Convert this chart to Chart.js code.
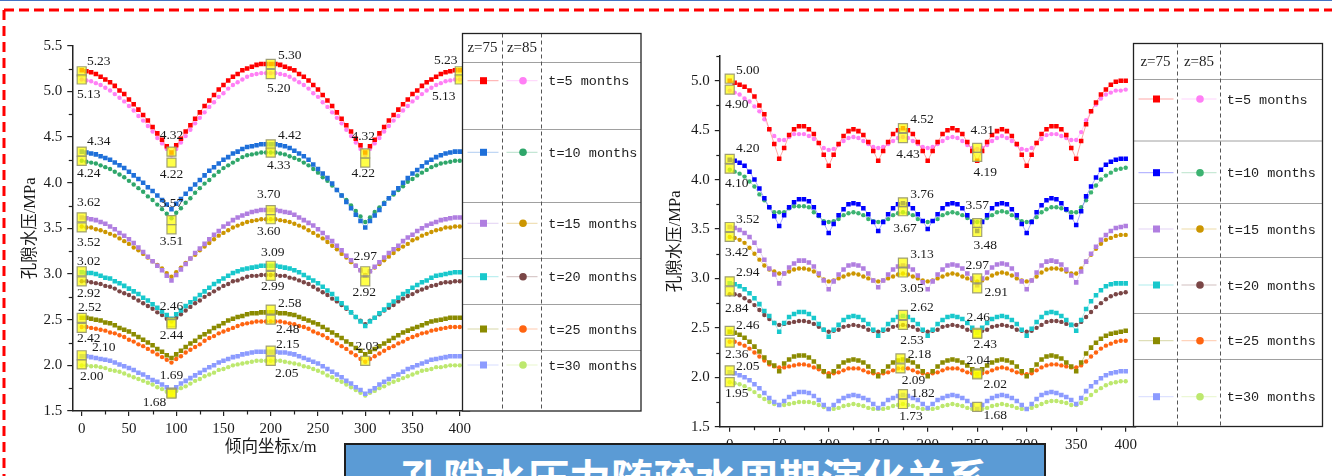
<!DOCTYPE html>
<html>
<head>
<meta charset="utf-8">
<script src="https://cdn.jsdelivr.net/npm/chart.js@4.4.1/dist/chart.umd.min.js"></script>
<style>
html, body { margin: 0; padding: 0; background: #fff; width: 1332px; height: 476px; overflow: hidden; }
#page { position: relative; width: 1332px; height: 476px; }
#frame { position: absolute; left: 0; top: 0; }
#leftChart { position: absolute; left: 0; top: 0; }
#rightChart { position: absolute; left: 645px; top: 0; }
#banner { position: absolute; left: 344px; top: 443px; width: 702px; height: 60px; box-sizing: border-box;
  background: #5b9bd5; border: 2px solid #1e1e1e; overflow: hidden; }
#banner span { position: absolute; left: 0; right: 0; top: 11px; text-align: center; color: #fff;
  font: bold 42px "Noto Sans CJK SC"; line-height: 42px; white-space: nowrap; }
</style>
</head>
<body>
<div id="page">
  <svg id="frame" width="1332" height="476">
    <line x1="0" y1="0.5" x2="1332" y2="0.5" stroke="#4472c4" stroke-width="1"/>
    <line x1="4" y1="10" x2="1332" y2="10" stroke="#ff0000" stroke-width="3" stroke-dasharray="10 5"/>
    <line x1="4" y1="10" x2="4" y2="476" stroke="#ff0000" stroke-width="3" stroke-dasharray="10 6"/>
  </svg>
  <canvas id="leftChart" width="645" height="476"></canvas>
  <canvas id="rightChart" width="687" height="476"></canvas>
  <div id="banner"><span>孔隙水压力随疏水周期演化关系</span></div>
</div>
<script>
// x positions along dip (m)
const xPos = [0,5,10,15,20,25,30,35,40,45,50,55,60,65,70,75,80,85,90,95,100,105,110,115,120,125,130,135,140,145,150,155,160,165,170,175,180,185,190,195,200,205,210,215,220,225,230,235,240,245,250,255,260,265,270,275,280,285,290,295,300,305,310,315,320,325,330,335,340,345,350,355,360,365,370,375,380,385,390,395,400];

const months = ['t=5 months', 't=10 months', 't=15 months', 't=20 months', 't=25 months', 't=30 months'];

// left panel, z=75 and z=85 (MPa)
const l75t5 = [5.23,5.22,5.21,5.19,5.16,5.13,5.10,5.06,5.01,4.97,4.91,4.86,4.80,4.74,4.68,4.61,4.54,4.47,4.40,4.33, 4.41,4.48,4.56,4.63,4.70,4.77,4.84,4.90,4.96,5.02,5.07,5.12,5.16,5.19,5.23,5.25,5.27,5.29,5.30,5.30,5.30, 5.30,5.29,5.27,5.25,5.23,5.19,5.16,5.12,5.07,5.02,4.96,4.90,4.84,4.77,4.70,4.63,4.56,4.48,4.41,4.33, 4.40,4.47,4.54,4.61,4.68,4.74,4.80,4.86,4.91,4.97,5.01,5.06,5.10,5.13,5.16,5.19,5.21,5.22,5.23,5.23];
const l85t5 = [5.13,5.12,5.11,5.09,5.07,5.04,5.01,4.97,4.93,4.89,4.84,4.79,4.73,4.68,4.62,4.56,4.49,4.43,4.37,4.30, 4.37,4.44,4.51,4.58,4.65,4.71,4.77,4.83,4.88,4.94,4.98,5.03,5.07,5.10,5.13,5.16,5.18,5.19,5.20,5.20,5.20, 5.20,5.19,5.18,5.16,5.13,5.10,5.07,5.03,4.98,4.94,4.88,4.83,4.77,4.71,4.65,4.58,4.51,4.44,4.37,4.30, 4.37,4.43,4.49,4.56,4.62,4.68,4.73,4.79,4.84,4.89,4.93,4.97,5.01,5.04,5.07,5.09,5.11,5.12,5.13,5.13];
const l75t10 = [4.34,4.33,4.32,4.31,4.29,4.27,4.25,4.22,4.19,4.16,4.12,4.08,4.04,4.00,3.95,3.91,3.86,3.81,3.76,3.71, 3.77,3.82,3.88,3.93,3.98,4.03,4.08,4.13,4.17,4.21,4.25,4.28,4.32,4.34,4.37,4.39,4.40,4.41,4.42,4.42,4.42, 4.42,4.41,4.40,4.38,4.35,4.32,4.29,4.25,4.20,4.15,4.10,4.05,3.99,3.92,3.86,3.79,3.72,3.65,3.58,3.51, 3.58,3.64,3.70,3.77,3.83,3.89,3.94,4.00,4.05,4.10,4.14,4.18,4.22,4.25,4.28,4.30,4.32,4.33,4.34,4.34];
const l85t10 = [4.24,4.23,4.22,4.21,4.19,4.17,4.15,4.12,4.09,4.06,4.02,3.98,3.94,3.90,3.85,3.81,3.76,3.71,3.66,3.61, 3.67,3.72,3.78,3.83,3.89,3.94,3.99,4.03,4.08,4.12,4.16,4.19,4.22,4.25,4.28,4.30,4.31,4.32,4.33,4.33,4.33, 4.33,4.32,4.31,4.29,4.27,4.25,4.22,4.19,4.15,4.11,4.06,4.02,3.97,3.92,3.86,3.81,3.75,3.69,3.63,3.57, 3.62,3.68,3.73,3.78,3.83,3.87,3.92,3.96,4.01,4.04,4.08,4.11,4.14,4.17,4.19,4.21,4.22,4.23,4.24,4.24];
const l75t15 = [3.62,3.61,3.60,3.59,3.57,3.55,3.52,3.49,3.45,3.42,3.38,3.34,3.29,3.24,3.19,3.14,3.09,3.04,2.98,2.93, 2.99,3.05,3.11,3.17,3.23,3.28,3.33,3.38,3.43,3.47,3.52,3.55,3.59,3.62,3.64,3.66,3.68,3.69,3.70,3.70,3.70, 3.70,3.69,3.68,3.67,3.65,3.62,3.59,3.56,3.53,3.49,3.45,3.40,3.36,3.31,3.26,3.20,3.15,3.09,3.04,2.98, 3.03,3.08,3.13,3.18,3.23,3.27,3.31,3.36,3.40,3.43,3.47,3.50,3.53,3.55,3.57,3.59,3.60,3.61,3.62,3.62];
const l85t15 = [3.52,3.51,3.51,3.49,3.48,3.46,3.44,3.42,3.39,3.36,3.33,3.29,3.26,3.22,3.18,3.14,3.10,3.06,3.01,2.97, 3.02,3.07,3.12,3.17,3.21,3.26,3.30,3.34,3.38,3.42,3.45,3.48,3.51,3.53,3.55,3.57,3.58,3.59,3.60,3.60,3.60, 3.60,3.59,3.58,3.57,3.55,3.53,3.51,3.48,3.45,3.42,3.39,3.35,3.31,3.27,3.22,3.18,3.13,3.09,3.04,2.99, 3.03,3.07,3.11,3.15,3.19,3.23,3.27,3.30,3.33,3.37,3.39,3.42,3.44,3.46,3.48,3.49,3.51,3.51,3.52,3.52];
const l75t20 = [3.02,3.01,3.01,3.00,2.98,2.96,2.95,2.92,2.90,2.87,2.84,2.81,2.78,2.74,2.71,2.67,2.63,2.59,2.55,2.51, 2.56,2.60,2.65,2.69,2.73,2.77,2.81,2.85,2.89,2.92,2.95,2.98,3.01,3.03,3.05,3.06,3.07,3.08,3.09,3.09,3.09, 3.09,3.08,3.07,3.06,3.04,3.02,2.99,2.96,2.93,2.90,2.86,2.82,2.78,2.73,2.68,2.63,2.58,2.53,2.48,2.43, 2.48,2.52,2.57,2.61,2.66,2.70,2.74,2.78,2.81,2.85,2.88,2.91,2.93,2.96,2.98,2.99,3.00,3.01,3.02,3.02];
const l85t20 = [2.92,2.92,2.91,2.90,2.89,2.87,2.86,2.84,2.81,2.79,2.77,2.74,2.71,2.68,2.65,2.62,2.58,2.55,2.51,2.48, 2.52,2.56,2.60,2.64,2.68,2.71,2.75,2.78,2.81,2.84,2.87,2.89,2.92,2.93,2.95,2.97,2.98,2.98,2.99,2.99,2.99, 2.99,2.98,2.98,2.96,2.95,2.93,2.91,2.89,2.86,2.83,2.80,2.77,2.73,2.70,2.66,2.62,2.58,2.53,2.49,2.45, 2.49,2.52,2.56,2.60,2.63,2.66,2.70,2.73,2.76,2.78,2.81,2.83,2.85,2.87,2.88,2.90,2.91,2.91,2.92,2.92];
const l75t25 = [2.52,2.52,2.51,2.50,2.49,2.47,2.46,2.44,2.41,2.39,2.37,2.34,2.31,2.28,2.25,2.22,2.18,2.15,2.11,2.08, 2.12,2.16,2.20,2.24,2.27,2.31,2.34,2.37,2.41,2.43,2.46,2.49,2.51,2.53,2.54,2.56,2.57,2.57,2.58,2.58,2.58, 2.58,2.57,2.57,2.56,2.55,2.53,2.51,2.49,2.47,2.45,2.42,2.39,2.36,2.33,2.30,2.26,2.23,2.19,2.16,2.12, 2.15,2.18,2.21,2.24,2.27,2.30,2.33,2.36,2.38,2.40,2.42,2.44,2.46,2.48,2.49,2.50,2.51,2.52,2.52,2.52];
const l85t25 = [2.42,2.42,2.41,2.40,2.39,2.38,2.36,2.35,2.33,2.31,2.28,2.26,2.23,2.21,2.18,2.15,2.12,2.09,2.06,2.03, 2.07,2.10,2.14,2.17,2.20,2.23,2.27,2.30,2.32,2.35,2.37,2.39,2.41,2.43,2.45,2.46,2.47,2.48,2.48,2.48,2.48, 2.48,2.48,2.47,2.46,2.45,2.43,2.42,2.40,2.37,2.35,2.33,2.30,2.27,2.24,2.21,2.18,2.14,2.11,2.07,2.04, 2.07,2.10,2.13,2.16,2.19,2.21,2.24,2.26,2.29,2.31,2.33,2.35,2.36,2.38,2.39,2.40,2.41,2.42,2.42,2.42];
const l75t30 = [2.10,2.10,2.09,2.08,2.07,2.06,2.05,2.03,2.01,1.99,1.97,1.95,1.92,1.90,1.87,1.84,1.82,1.79,1.76,1.73, 1.76,1.80,1.83,1.86,1.89,1.92,1.95,1.98,2.00,2.03,2.05,2.07,2.09,2.10,2.12,2.13,2.14,2.15,2.15,2.15,2.15, 2.15,2.14,2.14,2.13,2.12,2.10,2.08,2.06,2.04,2.02,1.99,1.96,1.93,1.90,1.87,1.83,1.80,1.76,1.73,1.69, 1.72,1.75,1.79,1.82,1.85,1.88,1.90,1.93,1.96,1.98,2.00,2.02,2.04,2.06,2.07,2.08,2.09,2.10,2.10,2.10];
const l85t30 = [2.00,2.00,1.99,1.99,1.98,1.97,1.95,1.94,1.93,1.91,1.89,1.87,1.85,1.83,1.81,1.79,1.76,1.74,1.71,1.69, 1.72,1.75,1.77,1.80,1.83,1.85,1.88,1.90,1.92,1.95,1.96,1.98,2.00,2.01,2.02,2.03,2.04,2.05,2.05,2.05,2.05, 2.05,2.05,2.04,2.03,2.02,2.01,1.99,1.98,1.96,1.94,1.92,1.89,1.87,1.84,1.82,1.79,1.76,1.73,1.70,1.67, 1.70,1.72,1.75,1.77,1.80,1.82,1.84,1.86,1.88,1.90,1.92,1.94,1.95,1.96,1.98,1.98,1.99,2.00,2.00,2.00];

// right panel, z=75 and z=85 (MPa)
const r75t5 = [5.00,4.98,4.96,4.94,4.90,4.84,4.75,4.66,4.51,4.36,4.21, 4.32,4.45,4.51,4.54,4.54,4.51,4.46,4.37,4.25,4.14, 4.25,4.36,4.44,4.49,4.51,4.49,4.45,4.38,4.29,4.19, 4.29,4.38,4.46,4.50,4.52,4.50,4.46,4.38,4.29,4.19, 4.29,4.38,4.46,4.50,4.52,4.50,4.46,4.38,4.29,4.19, 4.29,4.38,4.45,4.49,4.51,4.49,4.44,4.36,4.25,4.14, 4.25,4.37,4.46,4.51,4.54,4.54,4.51,4.45,4.32,4.21, 4.39,4.56,4.69,4.78,4.86,4.91,4.96,4.99,5.00,5.00];
const r85t5 = [4.90,4.88,4.86,4.82,4.79,4.74,4.69,4.61,4.51,4.44,4.40, 4.40,4.43,4.46,4.46,4.46,4.44,4.41,4.37,4.32,4.30, 4.31,4.35,4.39,4.42,4.43,4.42,4.39,4.36,4.33,4.32, 4.33,4.36,4.39,4.42,4.43,4.42,4.39,4.36,4.33,4.32, 4.33,4.36,4.39,4.42,4.43,4.42,4.39,4.35,4.32,4.31, 4.32,4.35,4.39,4.42,4.44,4.42,4.39,4.35,4.31,4.30, 4.32,4.37,4.41,4.45,4.46,4.46,4.44,4.42,4.40,4.40, 4.48,4.60,4.69,4.76,4.82,4.86,4.88,4.90,4.90,4.91];
const r75t10 = [4.20,4.19,4.17,4.14,4.08,4.00,3.91,3.81,3.72,3.63,3.53, 3.64,3.72,3.77,3.80,3.80,3.78,3.72,3.64,3.56,3.46, 3.55,3.64,3.70,3.75,3.76,3.75,3.71,3.65,3.57,3.48, 3.57,3.65,3.71,3.75,3.76,3.75,3.71,3.65,3.58,3.50, 3.58,3.65,3.71,3.75,3.76,3.75,3.71,3.64,3.57,3.48, 3.57,3.64,3.71,3.75,3.76,3.75,3.70,3.64,3.55,3.46, 3.57,3.67,3.74,3.79,3.81,3.80,3.76,3.70,3.62,3.54, 3.68,3.83,3.93,4.02,4.10,4.15,4.18,4.20,4.21,4.21];
const r85t10 = [4.10,4.08,4.06,4.03,3.98,3.93,3.85,3.79,3.72,3.67,3.67, 3.67,3.71,3.73,3.73,3.73,3.72,3.67,3.63,3.58,3.57, 3.58,3.60,3.64,3.66,3.67,3.66,3.64,3.60,3.58,3.57, 3.58,3.60,3.64,3.66,3.67,3.66,3.64,3.60,3.58,3.57, 3.58,3.60,3.64,3.66,3.67,3.66,3.64,3.61,3.58,3.57, 3.58,3.61,3.64,3.67,3.68,3.67,3.64,3.61,3.58,3.57, 3.58,3.62,3.67,3.70,3.72,3.72,3.71,3.69,3.67,3.67, 3.72,3.79,3.87,3.94,4.00,4.04,4.07,4.10,4.11,4.12];
const r75t15 = [3.52,3.51,3.49,3.46,3.42,3.36,3.28,3.19,3.10,3.04,2.95, 3.05,3.11,3.15,3.18,3.18,3.16,3.12,3.05,2.98,2.89, 2.97,3.04,3.09,3.13,3.14,3.13,3.10,3.05,2.98,2.91, 2.98,3.04,3.09,3.12,3.13,3.12,3.09,3.03,2.96,2.89, 2.97,3.04,3.09,3.13,3.14,3.13,3.10,3.05,3.00,2.93, 3.00,3.06,3.11,3.14,3.15,3.14,3.10,3.04,2.97,2.89, 2.98,3.06,3.13,3.17,3.18,3.17,3.14,3.09,3.03,2.96, 3.07,3.17,3.25,3.32,3.39,3.44,3.48,3.51,3.52,3.53];
const r85t15 = [3.42,3.41,3.39,3.36,3.31,3.25,3.19,3.13,3.09,3.07,3.05, 3.05,3.07,3.09,3.10,3.10,3.09,3.07,3.03,2.99,2.97, 2.98,3.00,3.02,3.04,3.05,3.04,3.02,3.00,2.98,2.97, 2.98,3.00,3.02,3.04,3.05,3.04,3.02,3.00,2.98,2.97, 2.98,3.00,3.02,3.04,3.05,3.04,3.02,3.00,2.98,2.97, 2.98,3.00,3.03,3.05,3.06,3.05,3.03,3.00,2.98,2.97, 2.98,3.02,3.06,3.09,3.10,3.10,3.09,3.07,3.05,3.05, 3.10,3.17,3.24,3.30,3.35,3.39,3.41,3.43,3.44,3.44];
const r75t20 = [2.95,2.94,2.92,2.89,2.85,2.80,2.74,2.67,2.62,2.55,2.46, 2.55,2.61,2.64,2.66,2.66,2.64,2.60,2.54,2.48,2.41, 2.48,2.53,2.58,2.61,2.62,2.61,2.58,2.54,2.48,2.42, 2.48,2.54,2.58,2.61,2.62,2.61,2.58,2.54,2.48,2.42, 2.48,2.54,2.58,2.61,2.62,2.61,2.59,2.55,2.50,2.45, 2.50,2.55,2.59,2.61,2.62,2.61,2.58,2.54,2.48,2.42, 2.49,2.56,2.61,2.65,2.66,2.65,2.62,2.58,2.53,2.47, 2.58,2.69,2.77,2.83,2.88,2.92,2.94,2.95,2.95,2.95];
const r85t20 = [2.84,2.84,2.83,2.80,2.77,2.73,2.68,2.63,2.59,2.55,2.53, 2.54,2.55,2.56,2.57,2.57,2.56,2.54,2.51,2.48,2.46, 2.47,2.48,2.51,2.52,2.53,2.52,2.51,2.48,2.47,2.46, 2.47,2.48,2.51,2.52,2.53,2.52,2.51,2.48,2.47,2.46, 2.47,2.48,2.51,2.52,2.53,2.52,2.51,2.48,2.47,2.46, 2.47,2.48,2.51,2.52,2.53,2.52,2.51,2.48,2.47,2.46, 2.47,2.50,2.53,2.56,2.57,2.57,2.56,2.54,2.53,2.53, 2.56,2.61,2.66,2.71,2.75,2.79,2.82,2.84,2.85,2.86];
const r75t25 = [2.46,2.45,2.43,2.40,2.36,2.31,2.26,2.20,2.15,2.12,2.06, 2.14,2.18,2.21,2.22,2.22,2.20,2.16,2.11,2.06,2.01, 2.06,2.11,2.15,2.17,2.18,2.17,2.15,2.11,2.06,2.01, 2.06,2.11,2.15,2.17,2.18,2.17,2.15,2.11,2.06,2.01, 2.06,2.11,2.15,2.17,2.18,2.17,2.15,2.12,2.08,2.03, 2.08,2.12,2.15,2.17,2.18,2.17,2.15,2.11,2.06,2.01, 2.07,2.13,2.18,2.21,2.22,2.21,2.19,2.15,2.11,2.06, 2.15,2.24,2.30,2.35,2.39,2.42,2.44,2.45,2.46,2.47];
const r85t25 = [2.36,2.36,2.34,2.32,2.29,2.25,2.21,2.17,2.13,2.11,2.10, 2.10,2.11,2.12,2.13,2.13,2.12,2.10,2.08,2.05,2.04, 2.04,2.05,2.07,2.09,2.09,2.09,2.07,2.05,2.04,2.03, 2.04,2.05,2.07,2.09,2.09,2.09,2.07,2.05,2.04,2.03, 2.04,2.05,2.07,2.09,2.09,2.09,2.07,2.05,2.04,2.03, 2.04,2.05,2.07,2.09,2.10,2.09,2.07,2.05,2.04,2.03, 2.04,2.07,2.10,2.12,2.13,2.13,2.12,2.11,2.10,2.10, 2.12,2.16,2.21,2.25,2.29,2.32,2.34,2.36,2.37,2.37];
const r75t30 = [2.05,2.04,2.02,2.00,1.97,1.93,1.89,1.84,1.79,1.75,1.72, 1.76,1.80,1.83,1.85,1.85,1.84,1.81,1.77,1.72,1.68, 1.72,1.76,1.79,1.81,1.82,1.81,1.79,1.77,1.73,1.69, 1.73,1.77,1.79,1.81,1.82,1.81,1.79,1.77,1.73,1.69, 1.73,1.77,1.79,1.81,1.82,1.81,1.79,1.76,1.72,1.68, 1.72,1.76,1.79,1.81,1.82,1.81,1.79,1.76,1.72,1.68, 1.73,1.78,1.82,1.84,1.85,1.84,1.82,1.80,1.77,1.73, 1.79,1.86,1.91,1.95,1.99,2.02,2.04,2.05,2.06,2.06];
const r85t30 = [1.95,1.94,1.93,1.91,1.88,1.85,1.81,1.78,1.75,1.73,1.72, 1.72,1.73,1.74,1.75,1.75,1.75,1.74,1.72,1.70,1.68, 1.68,1.69,1.71,1.72,1.73,1.72,1.71,1.69,1.68,1.68, 1.68,1.69,1.71,1.72,1.73,1.72,1.71,1.69,1.68,1.68, 1.68,1.69,1.71,1.72,1.73,1.72,1.71,1.69,1.68,1.68, 1.68,1.69,1.71,1.72,1.73,1.72,1.71,1.69,1.68,1.68, 1.69,1.71,1.73,1.75,1.76,1.76,1.75,1.74,1.72,1.72, 1.74,1.78,1.82,1.86,1.89,1.92,1.94,1.95,1.96,1.96];

// highlighted points (yellow squares) and their value labels
const leftMarkX = [0,0,95,95,200,200,300,300,400,400, 0,0,200,200,95,95, 0,0,200,200,300,300, 0,0,95,95,200,200, 0,0,200,200,300, 0,0,95,95,200,200];
const leftMarkY = [5.22,5.13,4.34,4.22,5.30,5.19,4.32,4.22,5.22,5.13, 4.34,4.24,4.42,4.33,3.59,3.49, 3.62,3.51,3.70,3.60,3.03,2.92, 3.03,2.92,2.47,2.45,3.09,2.98, 2.52,2.41,2.61,2.50,2.05, 2.11,2.01,1.70,1.69,2.16,2.05];
const leftMarkText = ['5.23','5.13','4.32','4.22','5.30','5.20','4.32','4.22','5.23','5.13', '4.34','4.24','4.42','4.33','3.57','3.51', '3.62','3.52','3.70','3.60','2.97','2.92', '3.02','2.92','2.46','2.44','3.09','2.99', '2.52','2.42','2.58','2.48','2.03', '2.10','2.00','1.69','1.68','2.15','2.05'];
const rightMarkX = [0,0,175,175,250,250, 0,0,175,175,250,250, 0,0,175,175,250,250, 0,0,175,175,250,250, 0,0,172.5,172.5,250,250, 0,0,175,175,250];
const rightMarkY = [5.02,4.91,4.52,4.42,4.32,4.23, 4.21,4.11,3.77,3.68,3.56,3.47, 3.52,3.42,3.16,3.06,3.00,2.90, 2.97,2.87,2.63,2.53,2.45,2.44, 2.47,2.35,2.19,2.09,2.04,2.03, 2.07,1.95,1.83,1.73,1.70];
const rightMarkText = ['5.00','4.90','4.52','4.43','4.31','4.19', '4.20','4.10','3.76','3.67','3.57','3.48', '3.52','3.42','3.13','3.05','2.97','2.91', '2.94','2.84','2.62','2.53','2.46','2.43', '2.46','2.36','2.18','2.09','2.04','2.02', '2.05','1.95','1.82','1.73','1.68'];

// label offsets from their marker, px
const leftLabelShift = [[17,-10],[7,15],[0,-16],[0,12],[19,-9],[8,14],[-2,-17],[-2,11],[-14,-11],[-16,17],
  [17,-10],[7,13],[19,-9],[8,13],[0,-17],[0,12], [7,-15],[7,15],[-2,-16],[-2,12],[0,-15],[-1,11],
  [7,-10],[7,12],[0,-16],[0,11],[2,-13],[2,11], [8,-10],[7,11],[19,-6],[17,10],[2,-14],
  [22,-8],[10,12],[0,-17],[-17,9],[17,-6],[16,13]];
const rightLabelShift = [[18,-8],[7,15],[19,-9],[5,16],[5,-17],[8,16], [18,-10],[7,15],[19,-8],[2,17],[0,-18],[8,13],
  [18,-8],[7,16],[19,-8],[9,16],[0,-13],[19,4], [18,-9],[7,17],[19,-8],[9,16],[1,-15],[8,11],
  [18,-5],[7,12],[19,-4],[13,12],[1,-13],[18,10], [18,-4],[7,11],[20,-1],[8,12],[18,9]];

const leftColors75 = ['#ff0000', '#1e6fd9', '#b07ee0', '#18c8cc', '#8b8b00', '#8c9bff'];
const leftColors85 = ['#ff7ff5', '#2ea66a', '#cc9600', '#7a4646', '#ff6410', '#bde86e'];
const rightColors75 = ['#ff0000', '#0000ff', '#b07ee0', '#18c8cc', '#8b8b00', '#8c9bff'];
const rightColors85 = ['#ff7ff5', '#3cb371', '#cc9600', '#7a4646', '#ff6410', '#bde86e'];

const serif = '"Liberation Serif", "Noto Sans CJK SC"';

function fade(hex, a) {
  const n = parseInt(hex.slice(1), 16);
  return `rgba(${(n >> 16) & 255},${(n >> 8) & 255},${n & 255},${a})`;
}

function buildDatasets(z75, z85, c75, c85, mx, my) {
  const sets = [{
    label: 'marks', order: -1, showLine: false,
    data: mx.map((x, i) => ({x: x, y: my[i]})),
    pointStyle: 'rect', pointRadius: 6.4,
    pointBackgroundColor: 'rgba(255,255,0,0.72)',
    pointBorderColor: 'rgba(150,150,110,0.9)', pointBorderWidth: 1.2
  }];
  for (let i = 0; i < z75.length; i++) {
    [[z75[i], c75[i], 'rect', 3.2], [z85[i], c85[i], 'circle', 2.2]].forEach(([vals, col, shape, r]) => {
      sets.push({
        label: months[i], showLine: true,
        data: xPos.map((x, k) => ({x: x, y: vals[k]})),
        borderColor: fade(col, 0.35), borderWidth: 1,
        pointStyle: shape, pointRadius: r,
        pointBackgroundColor: col, pointBorderWidth: 0
      });
    });
  }
  return sets;
}

const minorTicks = {
  id: 'minorTicks',
  afterDraw(chart) {
    const {ctx, scales: {x, y}} = chart;
    ctx.save();
    ctx.strokeStyle = '#222';
    ctx.lineWidth = 1.2;
    const xt = x.ticks.map(t => t.value);
    for (let i = 0; i < xt.length - 1; i++) {
      const px = Math.round(x.getPixelForValue((xt[i] + xt[i + 1]) / 2)) + 0.5;
      ctx.beginPath(); ctx.moveTo(px, y.bottom); ctx.lineTo(px, y.bottom + 3.5); ctx.stroke();
    }
    const yt = y.ticks.map(t => t.value);
    const step = yt[1] - yt[0];
    const mids = [];
    for (let i = 0; i < yt.length - 1; i++) mids.push((yt[i] + yt[i + 1]) / 2);
    if (yt[yt.length - 1] + step / 2 <= y.max + 1e-9) mids.push(yt[yt.length - 1] + step / 2);
    mids.forEach(v => {
      const py = Math.round(y.getPixelForValue(v)) + 0.5;
      ctx.beginPath(); ctx.moveTo(x.left, py); ctx.lineTo(x.left - 3.5, py); ctx.stroke();
    });
    ctx.restore();
  }
};

function valueLabels(mx, my, texts, shifts) {
  return {
    id: 'valueLabels',
    afterDatasetsDraw(chart) {
      const {ctx, scales: {x, y}} = chart;
      ctx.save();
      ctx.font = '13.5px "Liberation Serif"';
      ctx.fillStyle = '#1a1a1a';
      ctx.textAlign = 'center';
      ctx.textBaseline = 'middle';
      texts.forEach((t, i) => {
        ctx.fillText(t, x.getPixelForValue(mx[i]) + shifts[i][0], y.getPixelForValue(my[i]) + shifts[i][1]);
      });
      ctx.restore();
    }
  };
}

function legendTable(box, c75, c85, offsetX) {
  return {
    id: 'legendTable',
    afterDraw(chart) {
      const ctx = chart.ctx;
      const L = box.left - offsetX, R = box.right - offsetX;
      const c1 = box.cols[0] - offsetX, c2 = box.cols[1] - offsetX;
      const line = (x1, y1, x2, y2) => { ctx.beginPath(); ctx.moveTo(x1, y1); ctx.lineTo(x2, y2); ctx.stroke(); };
      ctx.save();
      ctx.fillStyle = '#fff';
      ctx.fillRect(L, box.top, R - L, box.bottom - box.top);
      ctx.strokeStyle = '#a0a0a0';
      ctx.lineWidth = 1;
      box.seps.forEach(y => line(L, y, R, y));
      ctx.strokeStyle = '#555';
      ctx.setLineDash([4, 3]);
      line(c1, box.top, c1, box.bottom);
      line(c2, box.top, c2, box.bottom);
      ctx.setLineDash([]);
      ctx.strokeStyle = '#222';
      ctx.lineWidth = 1.3;
      ctx.strokeRect(L, box.top, R - L, box.bottom - box.top);

      const m1 = (L + c1) / 2 + 1, m2 = (c1 + c2) / 2 + 1;
      ctx.fillStyle = '#222';
      ctx.font = '15px "Liberation Serif"';
      ctx.textAlign = 'center';
      ctx.textBaseline = 'middle';
      ctx.fillText('z=75', (L + c1) / 2, box.headerY);
      ctx.fillText('z=85', (c1 + c2) / 2, box.headerY);

      ctx.font = '13.5px "Liberation Mono"';
      ctx.textAlign = 'left';
      box.rows.forEach((y, i) => {
        ctx.lineWidth = 1;
        ctx.strokeStyle = fade(c75[i], 0.35);
        line(L + 5, y, c1 - 4, y);
        ctx.strokeStyle = fade(c85[i], 0.35);
        line(c1 + 4, y, c2 - 4, y);
        ctx.fillStyle = c75[i];
        ctx.fillRect(m1 - 3.5, y - 3.5, 7, 7);
        ctx.fillStyle = c85[i];
        ctx.beginPath(); ctx.arc(m2, y, 3.8, 0, Math.PI * 2); ctx.fill();
        ctx.fillStyle = '#222';
        ctx.fillText(months[i], box.textX - offsetX, y + 1);
      });
      ctx.restore();
    }
  };
}

function axisOptions(area, yMax, showXTitle) {
  const tickFont = {family: 'Liberation Serif', size: 15};
  return {
    x: {
      type: 'linear', min: -10, max: 410,
      afterFit: s => { s.height = area.xh; },
      ticks: {stepSize: 50, includeBounds: false, font: tickFont, color: '#1a1a1a', padding: 4, maxRotation: 0, autoSkip: false},
      grid: {display: true, drawOnChartArea: false, drawTicks: true, tickLength: 5, color: '#222', lineWidth: 1.2},
      border: {display: true, color: '#222', width: 1.5},
      title: {display: showXTitle, text: '倾向坐标x/m', color: '#1a1a1a', font: {family: serif, size: 16.5}, padding: {top: 0, bottom: 3.4}}
    },
    y: {
      type: 'linear', min: 1.5, max: yMax,
      afterFit: s => { s.width = area.yw; },
      ticks: {stepSize: 0.5, includeBounds: false, font: tickFont, color: '#1a1a1a', padding: 5, callback: v => v.toFixed(1)},
      grid: {display: true, drawOnChartArea: false, drawTicks: true, tickLength: 5, color: '#222', lineWidth: 1.2},
      border: {display: true, color: '#222', width: 1.5},
      title: {display: true, text: '孔隙水压/MPa', color: '#1a1a1a', font: {family: serif, size: 16.5}, padding: {top: 20.4, bottom: 0}}
    }
  };
}

function makeChart(id, datasets, area, yMax, showXTitle, plugins) {
  return new Chart(document.getElementById(id), {
    type: 'scatter',
    data: {datasets: datasets},
    options: {
      responsive: false, animation: false, devicePixelRatio: 1,
      layout: {padding: area.pad},
      plugins: {legend: {display: false}, tooltip: {enabled: false}},
      elements: {line: {tension: 0}},
      scales: axisOptions(area, yMax, showXTitle)
    },
    plugins: plugins
  });
}

// left panel: plot area 72.25..469.2 x 45.7..411 (canvas at x=0)
makeChart('leftChart',
  buildDatasets([l75t5, l75t10, l75t15, l75t20, l75t25, l75t30], [l85t5, l85t10, l85t15, l85t20, l85t25, l85t30],
    leftColors75, leftColors85, leftMarkX, leftMarkY),
  {yw: 72.25, xh: 50, pad: {left: 0, top: 45.7, right: 645 - 469.2, bottom: 15}},
  5.5, true,
  [valueLabels(leftMarkX, leftMarkY, leftMarkText, leftLabelShift), minorTicks,
   legendTable({left: 462.5, right: 641, top: 33.5, bottom: 411, seps: [62.5, 129.5, 202.5, 258.5, 304.5, 350.5],
     cols: [502.5, 541.5], headerY: 48, rows: [80.7, 152.3, 223.3, 276.7, 329, 365], textX: 548.3},
     leftColors75, leftColors85, 0)]);

// right panel: plot area 719.8..1135.6 x 56..426.7 (canvas at x=645)
makeChart('rightChart',
  buildDatasets([r75t5, r75t10, r75t15, r75t20, r75t25, r75t30], [r85t5, r85t10, r85t15, r85t20, r85t25, r85t30],
    rightColors75, rightColors85, rightMarkX, rightMarkY),
  {yw: 74.8, xh: 40, pad: {left: 0, top: 56, right: 687 - 490.6, bottom: 476 - 426.7 - 40}},
  5.25, false,
  [valueLabels(rightMarkX, rightMarkY, rightMarkText, rightLabelShift), minorTicks,
   legendTable({left: 1133.5, right: 1322.5, top: 43.5, bottom: 426.5, seps: [79.5, 141, 203.5, 257.5, 313.5, 359.5],
     cols: [1177.5, 1220.5], headerY: 62, rows: [99, 172.7, 229, 285, 340.7, 396.7], textX: 1226.7},
     rightColors75, rightColors85, 645)]);
</script>
</body>
</html>
